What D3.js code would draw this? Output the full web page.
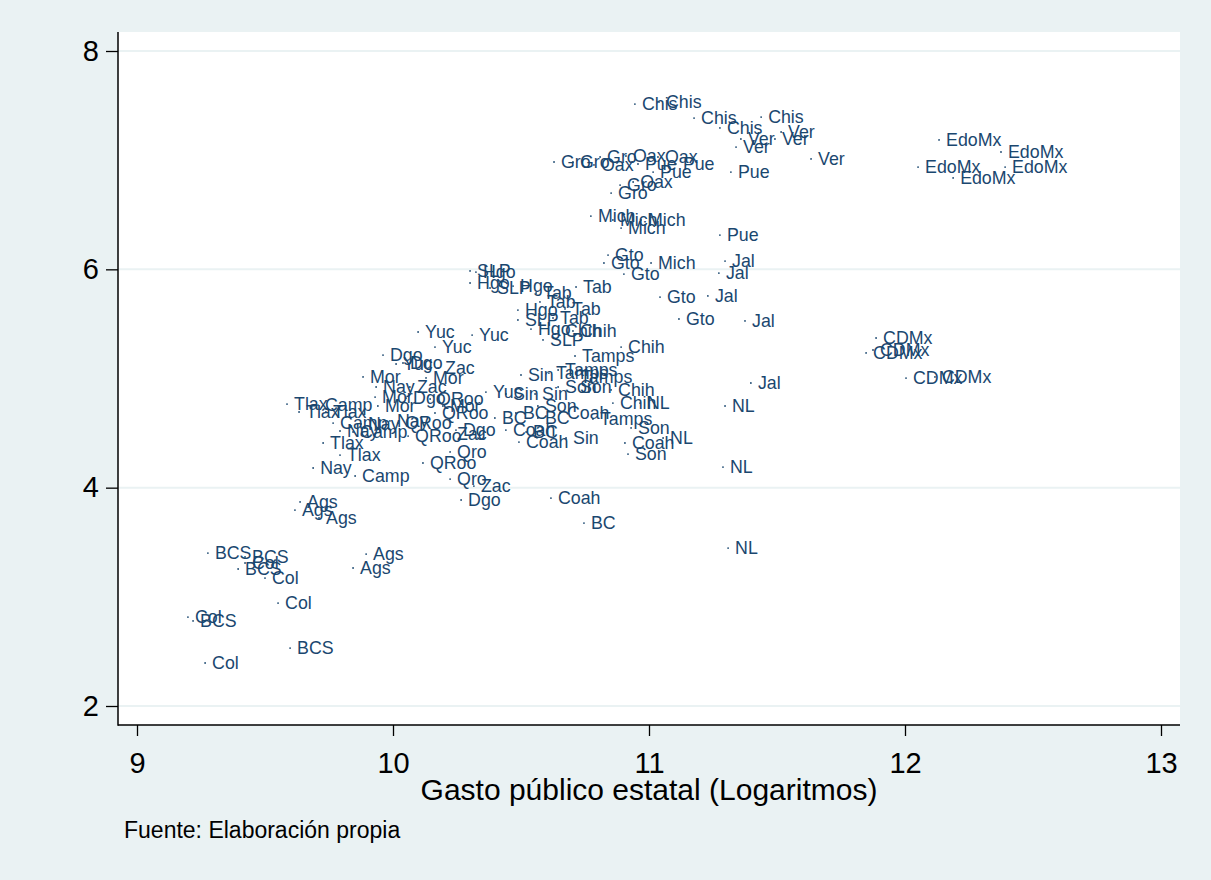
<!DOCTYPE html>
<html>
<head>
<meta charset="utf-8">
<style>
  body { margin: 0; background: #eaf2f3; }
  svg { display: block; font-family: "Liberation Sans", Arial, sans-serif; }
</style>
</head>
<body>
<svg width="1211" height="880"></svg>
<script src="https://d3js.org/d3.v7.min.js"></script>
<script>
// datos: log del gasto público estatal (x) e indicador (y)
var estados = ["Ags", "BC", "BCS", "Camp", "CDMx", "Chih", "Chis", "Coah", "Col", "Dgo",
  "EdoMx", "Gro", "Gto", "Hgo", "Jal", "Mich", "Mor", "Nay", "NL", "Oax", "Pue", "Qro",
  "QRoo", "Sin", "SLP", "Son", "Tab", "Tamps", "Tlax", "Ver", "Yuc", "Zac"];

var gastoLog = [
  [9.637, 9.617, 9.711, 9.895, 9.844],
  [10.398, 10.480, 10.566, 10.520, 10.746],
  [9.277, 9.422, 9.395, 9.219, 9.598],
  [9.707, 9.766, 9.844, 9.852],
  [11.887, 11.848, 11.875, 12.004, 12.117],
  [10.645, 10.703, 10.891, 10.852, 10.859],
  [10.945, 11.039, 11.176, 11.277, 11.438],
  [10.652, 10.441, 10.492, 10.906, 10.617],
  [9.422, 9.500, 9.551, 9.199, 9.266],
  [9.961, 10.039, 10.051, 10.246, 10.266],
  [12.133, 12.375, 12.051, 12.391, 12.188],
  [10.629, 10.703, 10.809, 10.887, 10.852],
  [10.840, 10.824, 10.902, 11.043, 11.117],
  [10.324, 10.301, 10.469, 10.488, 10.539],
  [11.297, 11.273, 11.230, 11.375, 11.398],
  [10.773, 10.859, 10.969, 10.891, 11.008],
  [9.883, 10.129, 9.930, 9.941, 10.195],
  [9.934, 9.875, 9.793, 9.688, 9.988],
  [10.965, 11.055, 11.297, 11.289, 11.309],
  [10.785, 10.910, 11.035, 10.938],
  [11.320, 11.277, 10.957, 11.105, 11.016],
  [10.223, 10.223],
  [10.145, 10.164, 10.020, 10.059, 10.117],
  [10.500, 10.441, 10.555, 10.676],
  [10.301, 10.379, 10.488, 10.586],
  [10.645, 10.703, 10.566, 10.930, 10.918],
  [10.715, 10.559, 10.574, 10.672, 10.625],
  [10.711, 10.609, 10.645, 10.703, 10.781],
  [9.586, 9.633, 9.738, 9.727, 9.793],
  [11.516, 11.359, 11.492, 11.340, 11.633],
  [10.098, 10.309, 10.164, 10.012, 10.363],
  [10.176, 10.066, 10.223, 10.316]
];

var indicador = [
  [3.869, 3.795, 3.722, 3.392, 3.264],
  [4.638, 4.684, 4.638, 4.510, 3.676],
  [3.401, 3.365, 3.255, 2.779, 2.531],
  [4.757, 4.592, 4.510, 4.107],
  [5.371, 5.234, 5.261, 5.004, 5.014],
  [5.435, 5.435, 5.288, 4.895, 4.775],
  [7.514, 7.533, 7.386, 7.295, 7.395],
  [4.684, 4.528, 4.418, 4.409, 3.905],
  [3.310, 3.172, 2.943, 2.815, 2.394],
  [5.215, 5.142, 4.821, 4.528, 3.887],
  [7.185, 7.075, 6.937, 6.937, 6.837],
  [6.983, 6.983, 7.029, 6.772, 6.699],
  [6.131, 6.058, 5.957, 5.746, 5.545],
  [5.975, 5.875, 5.847, 5.627, 5.453],
  [6.076, 5.966, 5.756, 5.527, 4.959],
  [6.488, 6.452, 6.452, 6.378, 6.058],
  [5.014, 5.005, 4.830, 4.748, 4.748],
  [4.922, 4.583, 4.519, 4.180, 4.611],
  [4.775, 4.455, 4.748, 4.189, 3.447],
  [6.956, 7.038, 7.029, 6.800],
  [6.891, 6.314, 6.965, 6.965, 6.891],
  [4.327, 4.079],
  [4.812, 4.684, 4.592, 4.473, 4.226],
  [5.032, 4.858, 4.858, 4.455],
  [5.985, 5.829, 5.536, 5.353],
  [4.922, 4.922, 4.748, 4.547, 4.308],
  [5.838, 5.783, 5.701, 5.637, 5.554],
  [5.206, 5.050, 5.078, 5.014, 4.629],
  [4.766, 4.693, 4.693, 4.409, 4.299],
  [7.258, 7.194, 7.194, 7.120, 7.011],
  [5.426, 5.398, 5.288, 5.133, 4.876],
  [5.096, 4.922, 4.492, 4.015]
];

var xTicks = [9, 10, 11, 12, 13];
var yTicks = [2, 4, 6, 8];

// aplanar en puntos
var puntos = [];
estados.forEach(function (e, i) {
  gastoLog[i].forEach(function (g, j) {
    puntos.push({ estado: e, x: g, y: indicador[i][j] });
  });
});

var svg = d3.select('svg');
var plot = { left: 118, right: 1180, top: 32, bottom: 725 };
var navy = '#1a476f';

svg.append('rect').attr('width', 1211).attr('height', 880).attr('fill', '#eaf2f3');
svg.append('rect')
  .attr('x', plot.left).attr('y', plot.top)
  .attr('width', plot.right - plot.left).attr('height', plot.bottom - plot.top)
  .attr('fill', '#fff');

var x = d3.scaleLinear().domain([9, 13]).range([137, 1161]);
var y = d3.scaleLinear().domain([2, 8]).range([706, 51]);

// líneas de cuadrícula
svg.append('g').selectAll('line').data(yTicks).join('line')
  .attr('x1', plot.left).attr('x2', plot.right)
  .attr('y1', function (d) { return y(d); })
  .attr('y2', function (d) { return y(d); })
  .attr('stroke', '#eaf2f3').attr('stroke-width', 2);

// ejes
var gx = svg.append('g')
  .attr('transform', 'translate(0,' + plot.bottom + ')')
  .call(d3.axisBottom(x).tickValues(xTicks).tickSize(11).tickPadding(16).tickFormat(d3.format('d')));
var gy = svg.append('g')
  .attr('transform', 'translate(' + plot.left + ',0)')
  .call(d3.axisLeft(y).tickValues(yTicks).tickSize(12).tickPadding(7).tickFormat(d3.format('d')));
[gx, gy].forEach(function (g) {
  g.select('.domain').remove();
  g.selectAll('.tick line').attr('stroke', '#000').attr('stroke-width', 1.3);
  g.selectAll('.tick text').attr('fill', '#000').style('font-size', '29px')
    .style('font-family', '"Liberation Sans", Arial, sans-serif');
});
svg.append('line').attr('x1', plot.left).attr('x2', plot.left)
  .attr('y1', plot.top).attr('y2', plot.bottom + 0.7)
  .attr('stroke', '#000').attr('stroke-width', 1.5);
svg.append('line').attr('x1', plot.left).attr('x2', plot.right)
  .attr('y1', plot.bottom).attr('y2', plot.bottom)
  .attr('stroke', '#000').attr('stroke-width', 1.5);

// puntos y etiquetas
var pts = svg.append('g');
pts.selectAll('circle').data(puntos).join('circle')
  .attr('cx', function (d) { return x(d.x); })
  .attr('cy', function (d) { return y(d.y); })
  .attr('r', 0.9)
  .attr('fill', navy);
pts.selectAll('text').data(puntos).join('text')
  .attr('x', function (d) { return x(d.x) + 7; })
  .attr('y', function (d) { return y(d.y) + 6.4; })
  .attr('fill', navy)
  .style('font-size', '17.8px')
  .text(function (d) { return d.estado; });

// títulos
svg.append('text')
  .attr('x', (plot.left + plot.right) / 2).attr('y', 800)
  .attr('text-anchor', 'middle')
  .style('font-size', '30px')
  .text('Gasto público estatal (Logaritmos)');
svg.append('text')
  .attr('x', 124).attr('y', 838)
  .style('font-size', '23px')
  .text('Fuente: Elaboración propia');
</script>
</body>
</html>
